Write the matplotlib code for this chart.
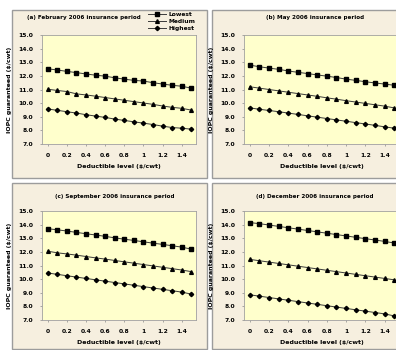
import numpy as np
import matplotlib
matplotlib.use("Agg")
import matplotlib.pyplot as plt
from matplotlib.patches import Rectangle

# deductible levels ($/cwt)
deductible = [0.0, 0.1, 0.2, 0.3, 0.4, 0.5, 0.6, 0.7, 0.8, 0.9, 1.0, 1.1, 1.2, 1.3, 1.4, 1.5]
xtick_vals = [0, 0.2, 0.4, 0.6, 0.8, 1.0, 1.2, 1.4]
xtick_labels = ["0", "0.2", "0.4", "0.6", "0.8", "1", "1.2", "1.4"]
series_names = ["Lowest", "Medium", "Highest"]

titles = ["(a) February 2006 insurance period",
          "(b) May 2006 insurance period",
          "(c) September 2006 insurance period",
          "(d) December 2006 insurance period"]

# (a)
a_lowest = [12.52, 12.43, 12.33, 12.24, 12.14, 12.05, 11.98, 11.86, 11.76, 11.67, 11.62, 11.50, 11.40, 11.31, 11.24, 11.10]
a_medium = [11.02, 10.93, 10.85, 10.68, 10.60, 10.51, 10.41, 10.31, 10.21, 10.11, 10.01, 9.91, 9.79, 9.69, 9.62, 9.49]
a_highest = [9.57, 9.47, 9.37, 9.27, 9.15, 9.05, 8.95, 8.83, 8.73, 8.63, 8.53, 8.43, 8.31, 8.21, 8.16, 8.09]
# (b)
b_lowest = [12.79, 12.67, 12.57, 12.48, 12.36, 12.26, 12.17, 12.07, 11.98, 11.88, 11.76, 11.67, 11.57, 11.48, 11.40, 11.31]
b_medium = [11.20, 11.10, 11.00, 10.90, 10.80, 10.70, 10.60, 10.50, 10.39, 10.29, 10.18, 10.08, 9.98, 9.88, 9.78, 9.65]
b_highest = [9.65, 9.55, 9.46, 9.37, 9.27, 9.17, 9.07, 8.97, 8.87, 8.77, 8.67, 8.57, 8.47, 8.37, 8.26, 8.16]
# (c)
c_lowest = [13.70, 13.62, 13.53, 13.43, 13.33, 13.24, 13.14, 13.03, 12.93, 12.84, 12.74, 12.64, 12.55, 12.45, 12.35, 12.20]
c_medium = [12.05, 11.93, 11.85, 11.76, 11.66, 11.56, 11.47, 11.37, 11.27, 11.17, 11.07, 10.97, 10.87, 10.77, 10.67, 10.55]
c_highest = [10.45, 10.35, 10.25, 10.15, 10.05, 9.95, 9.85, 9.75, 9.65, 9.55, 9.45, 9.35, 9.25, 9.15, 9.05, 8.90]
# (d)
d_lowest = [14.15, 14.07, 13.97, 13.87, 13.77, 13.67, 13.57, 13.47, 13.37, 13.27, 13.17, 13.07, 12.97, 12.87, 12.77, 12.65]
d_medium = [11.45, 11.35, 11.25, 11.15, 11.05, 10.95, 10.85, 10.75, 10.65, 10.55, 10.45, 10.35, 10.25, 10.15, 10.05, 9.95]
d_highest = [8.85, 8.75, 8.65, 8.55, 8.45, 8.35, 8.25, 8.15, 8.05, 7.95, 7.85, 7.75, 7.65, 7.55, 7.45, 7.30]

panels = [(a_lowest, a_medium, a_highest),
          (b_lowest, b_medium, b_highest),
          (c_lowest, c_medium, c_highest),
          (d_lowest, d_medium, d_highest)]

W, H = 396, 350
fig = plt.figure(figsize=(W / 100, H / 100), dpi=100)
fig.patch.set_facecolor("white")

def fx(px):
    return px / W

def fy(py):
    return 1 - py / H

# panel boxes in pixels: left, top, right, bottom
boxes = [(12, 10, 207, 178), (212, 10, 399, 178), (12, 183, 207, 349), (212, 183, 399, 349)]
# plot areas in pixels
areas = [(42, 35, 196, 144), (244, 35, 399, 144), (42, 211, 196, 320), (244, 211, 399, 320)]

for (l, t, r, b) in boxes:
    fig.patches.append(Rectangle((fx(l), fy(b)), fx(r - l), (b - t) / H, transform=fig.transFigure,
                                 facecolor="#f6efdf", edgecolor="#9c9c9c", lw=1.0, zorder=-5))

markers = ["s", "^", "D"]
msizes = [2.5, 2.7, 2.2]
axes = []
for i, (l, t, r, b) in enumerate(areas):
    ax = fig.add_axes([fx(l), fy(b), fx(r - l), (b - t) / H])
    ax.set_zorder(2)
    ax.set_facecolor("#ffffcc")
    for k, vals in enumerate(panels[i]):
        ax.plot(deductible, vals, color="#3a3a3a", lw=0.7, marker=markers[k], ms=msizes[k],
                mfc="black", mec="black", label=series_names[k])
    ax.set_xlim(-0.06, 1.55)
    ax.set_ylim(7.0, 15.0)
    ax.set_yticks(np.arange(7.0, 15.01, 1.0))
    ax.set_yticklabels(["%.1f" % v for v in np.arange(7.0, 15.01, 1.0)], fontsize=4.3, fontweight="bold")
    ax.set_xticks(xtick_vals)
    ax.set_xticklabels(xtick_labels, fontsize=4.3, fontweight="bold")
    ax.tick_params(length=1.5, width=0.5, color="#888888", pad=5)
    for s in ax.spines.values():
        s.set_color("#a0a0a0")
        s.set_linewidth(0.6)
    ax.set_xlabel("Deductible level (\\$/cwt)", fontsize=4.5, fontweight="bold", labelpad=4)
    ax.set_ylabel("IOPC guaranteed (\\$/cwt)", fontsize=4.5, fontweight="bold", labelpad=4)
    axes.append(ax)

# titles
fig.text(fx(84), fy(18), titles[0], fontsize=4.1, fontweight="bold", ha="center", va="center")
fig.text(fx(315), fy(18), titles[1], fontsize=4.1, fontweight="bold", ha="center", va="center")
fig.text(fx(115), fy(196), titles[2], fontsize=4.1, fontweight="bold", ha="center", va="center")
fig.text(fx(315), fy(196), titles[3], fontsize=4.1, fontweight="bold", ha="center", va="center")

handles, labels = axes[0].get_legend_handles_labels()
leg = fig.legend(handles, labels, loc="upper right", bbox_to_anchor=(fx(200), fy(8)),
                 frameon=False, handlelength=3.0, labelspacing=0.3,
                 handletextpad=0.5, borderpad=0.2, prop={"size": 4.3, "weight": "bold"})

fig.savefig("out.png", dpi=100, facecolor=fig.get_facecolor())
